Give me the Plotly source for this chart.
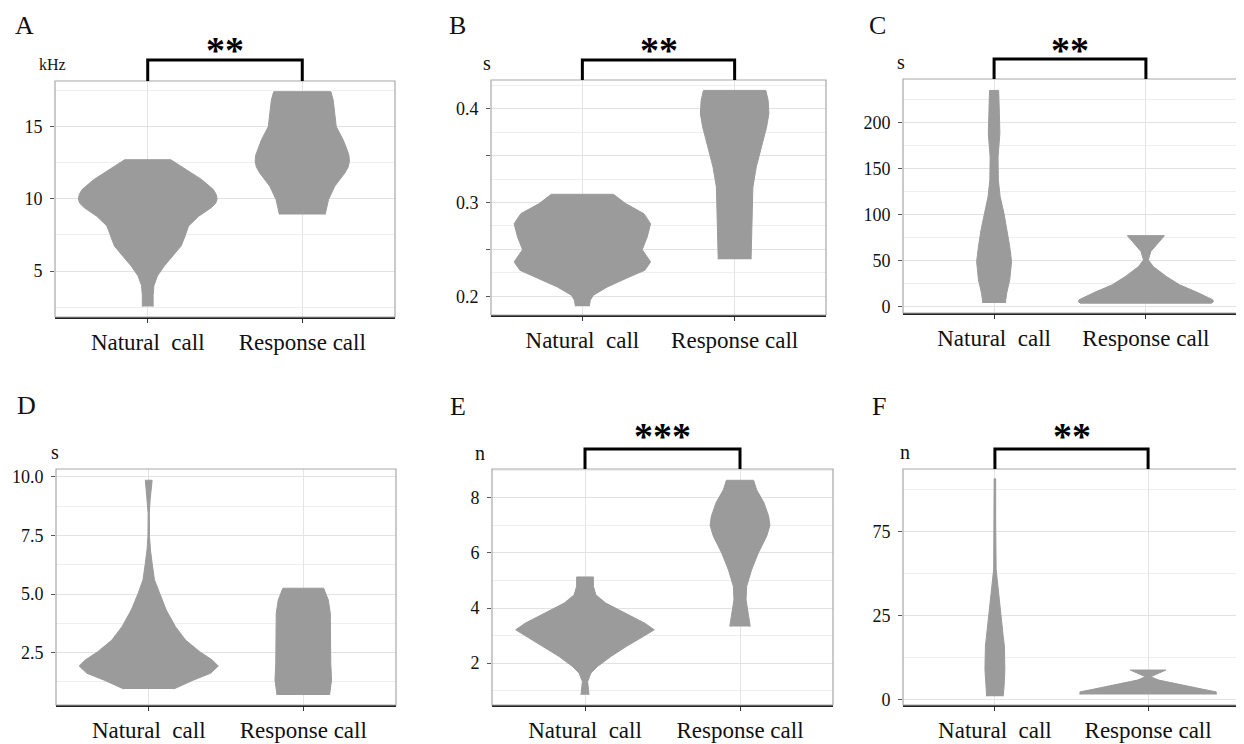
import plotly.graph_objects as go

OFF = 8  # the page body adds an 8px margin around the figure
W, H = 1244 - OFF, 744 - OFF
FONT = "Liberation Serif"
VIOLIN = "#9b9b9b"

categories = ["Natural\u00a0 call", "Response call"]
panel_letters = ["A", "B", "C", "D", "E", "F"]
unit_labels = ["kHz", "s", "s", "s", "n", "n"]
significance = ["**", "**", "**", "", "***", "**"]

# ---- violin outlines: value levels and half-widths ----
A_nat_y = [2.54, 3.3, 3.99, 4.67, 5.36, 6.05, 6.74, 7.43, 8.12, 8.8, 9.38, 9.7, 10.0, 10.3, 10.64, 11.33, 12.02, 12.71]
A_nat_w = [0.035, 0.035, 0.04, 0.063, 0.108, 0.162, 0.216, 0.242, 0.264, 0.33, 0.41, 0.44, 0.449, 0.443, 0.425, 0.35, 0.248, 0.149]
A_res_y = [8.92, 9.95, 10.87, 11.79, 12.2, 12.6, 13.0, 13.4, 14.09, 15.0, 15.92, 16.84, 17.42]
A_res_w = [0.148, 0.17, 0.21, 0.275, 0.297, 0.305, 0.302, 0.29, 0.264, 0.22, 0.21, 0.2, 0.185]

B_nat_y = [0.1893, 0.1957, 0.2011, 0.2099, 0.2188, 0.2277, 0.2366, 0.2497, 0.2632, 0.2774, 0.2881, 0.2988, 0.3087]
B_nat_w = [0.046, 0.052, 0.072, 0.164, 0.284, 0.41, 0.448, 0.393, 0.426, 0.448, 0.404, 0.284, 0.204]
B_res_y = [0.2394, 0.2632, 0.2881, 0.3165, 0.3378, 0.3591, 0.3805, 0.3947, 0.4089, 0.4195]
B_res_w = [0.108, 0.112, 0.114, 0.12, 0.142, 0.175, 0.21, 0.225, 0.22, 0.205]

C_nat_y = [3.6, 14.5, 28.9, 48.8, 65.1, 83.2, 101.3, 119.3, 137.4, 162.7, 188.0, 209.8, 235.0]
C_nat_w = [0.074, 0.083, 0.103, 0.115, 0.103, 0.086, 0.065, 0.04, 0.028, 0.026, 0.038, 0.035, 0.03]
C_res_y = [2.9, 5.0, 7.2, 14.5, 23.5, 32.5, 43.4, 50.6, 59.7, 68.7, 77.0]
C_res_w = [0.425, 0.445, 0.44, 0.348, 0.222, 0.135, 0.048, 0.016, 0.032, 0.076, 0.122]

D_nat_y = [0.95, 1.33, 1.62, 1.93, 2.19, 2.54, 3.04, 3.61, 4.32, 5.04, 5.61, 6.32, 6.89, 7.46, 8.46, 9.03, 9.46, 9.86]
D_nat_w = [0.162, 0.29, 0.40, 0.45, 0.41, 0.33, 0.238, 0.173, 0.113, 0.068, 0.037, 0.022, 0.011, 0.005, 0.004, 0.009, 0.016, 0.022]
D_res_y = [0.69, 1.33, 2.04, 3.18, 4.18, 4.75, 5.25]
D_res_w = [0.17, 0.183, 0.178, 0.176, 0.175, 0.162, 0.132]

E_nat_y = [0.85, 1.03, 1.33, 1.64, 1.88, 2.24, 2.61, 2.97, 3.21, 3.45, 3.82, 4.18, 4.48, 4.79, 5.13]
E_nat_w = [0.026, 0.024, 0.017, 0.038, 0.081, 0.167, 0.268, 0.376, 0.447, 0.386, 0.258, 0.134, 0.07, 0.054, 0.054]
E_res_y = [3.33, 3.82, 4.3, 4.79, 5.39, 6.0, 6.61, 7.0, 7.33, 7.82, 8.3, 8.64]
E_res_w = [0.066, 0.054, 0.039, 0.043, 0.075, 0.118, 0.172, 0.193, 0.185, 0.155, 0.107, 0.088]

F_nat_y = [1.0, 4.0, 9.0, 15.9, 18.9, 23.9, 28.9, 34.9, 38.8, 53.8, 65.7]
F_nat_w = [0.054, 0.06, 0.065, 0.062, 0.054, 0.043, 0.032, 0.017, 0.008, 0.005, 0.005]
F_res_y = [1.5, 2.3, 3.2, 4.5, 5.8, 6.8, 7.8, 8.8]
F_res_w = [0.445, 0.445, 0.345, 0.2, 0.07, 0.017, 0.07, 0.116]

# ---- axis ticks ----
A_ticks, A_text, A_minor = [5, 10, 15], ["5", "10", "15"], [2.5, 7.5, 12.5, 17.5]
B_ticks, B_text, B_minor = [0.2, 0.25, 0.3, 0.35, 0.4], ["0.2", "", "0.3", "", "0.4"], [0.225, 0.275, 0.325, 0.375, 0.425]
C_ticks, C_text, C_minor = [0, 50, 100, 150, 200], ["0", "50", "100", "150", "200"], [25, 75, 125, 175, 225]
D_ticks, D_text, D_minor = [2.5, 5.0, 7.5, 10.0], ["2.5", "5.0", "7.5", "10.0"], [1.25, 3.75, 6.25, 8.75]
E_ticks, E_text, E_minor = [2, 4, 6, 8], ["2", "4", "6", "8"], [1, 3, 5, 7, 9]
F_ticks, F_text, F_minor = [0, 25, 50], ["0", "25", "75"], [12.5, 37.5, 62.5]

panels = [
    dict(nat=(A_nat_y, A_nat_w), res=(A_res_y, A_res_w), ticks=A_ticks, text=A_text, minor=A_minor,
         yr=[1.82, 18.16], box=(55, 81, 395, 317)),
    dict(nat=(B_nat_y, B_nat_w), res=(B_res_y, B_res_w), ticks=B_ticks, text=B_text, minor=B_minor,
         yr=[0.180, 0.4306], box=(491, 80, 826, 315)),
    dict(nat=(C_nat_y, C_nat_w), res=(C_res_y, C_res_w), ticks=C_ticks, text=C_text, minor=C_minor,
         yr=[-7.2, 247.5], box=(903, 79, 1237, 313)),
    dict(nat=(D_nat_y, D_nat_w), res=(D_res_y, D_res_w), ticks=D_ticks, text=D_text, minor=D_minor,
         yr=[0.265, 10.34], box=(56, 469, 396, 705)),
    dict(nat=(E_nat_y, E_nat_w), res=(E_res_y, E_res_w), ticks=E_ticks, text=E_text, minor=E_minor,
         yr=[0.48, 9.05], box=(492, 469, 833, 705)),
    dict(nat=(F_nat_y, F_nat_w), res=(F_res_y, F_res_w), ticks=F_ticks, text=F_text, minor=F_minor,
         yr=[-1.6, 68.6], box=(903, 469, 1240, 705)),
]

# label positions in screen pixels
letter_pos = [(13, 25), (447, 25), (867, 25), (15, 405), (448, 406), (870, 406)]
unit_pos = [(52, 64), (487, 63), (901, 62), (55, 452), (480, 453), (905, 452)]
star_y = [50, 50, 50, None, 436, 436]
bracket_y = [60, 60, 59, None, 449, 449]

fig = go.Figure()
layout = dict(width=W, height=H, margin=dict(l=0, r=0, t=0, b=0, autoexpand=False),
              font=dict(family=FONT, color="#111"),
              paper_bgcolor="white", plot_bgcolor="white", showlegend=False)
shapes, annotations = [], []


def px_x(x):
    return (x - OFF) / W


def px_y(y):
    return 1 - (y - OFF) / H


for i, p in enumerate(panels):
    n = i + 1
    xa = "x" if n == 1 else f"x{n}"
    ya = "y" if n == 1 else f"y{n}"
    x0, y0, x1, y1 = p["box"]
    for center, (ys, ws) in ((1, p["nat"]), (2, p["res"])):
        xs = [center + w for w in ws] + [center - w for w in ws[::-1]]
        yy = list(ys) + list(ys[::-1])
        fig.add_trace(go.Scatter(x=xs, y=yy, xaxis=xa, yaxis=ya, mode="lines", fill="toself",
                                 fillcolor=VIOLIN, line=dict(color=VIOLIN, width=1),
                                 hoverinfo="skip"))
    layout["xaxis" if n == 1 else f"xaxis{n}"] = dict(
        domain=[px_x(x0), px_x(x1)], anchor=ya, range=[0.4, 2.6], automargin=False,
        tickvals=[1, 2], ticktext=categories, ticks="outside", ticklen=4, tickcolor="#333",
        tickfont=dict(family=FONT, size=23, color="#111"), showgrid=True, gridcolor="#e4e4e4",
        gridwidth=1, zeroline=False, showline=True, linecolor="#222", linewidth=1.5,
        ticklabelstandoff=0, fixedrange=True)
    layout["yaxis" if n == 1 else f"yaxis{n}"] = dict(
        domain=[px_y(y1), px_y(y0)], anchor=xa, range=p["yr"], automargin=False,
        tickvals=p["ticks"], ticktext=p["text"], ticks="outside", ticklen=4, tickcolor="#555",
        tickfont=dict(family=FONT, size=18, color="#111"), showgrid=True, gridcolor="#e2e2e2",
        gridwidth=1.4, zeroline=False, showline=False, ticklabelstandoff=4,
        minor=dict(tickvals=p["minor"], showgrid=True, gridcolor="#eeeeee", gridwidth=1, ticks=""),
        fixedrange=True)
    shapes.append(dict(type="rect", xref=f"{xa} domain", yref=f"{ya} domain", x0=0, x1=1, y0=0, y1=1,
                       line=dict(color="#a8a8a8", width=1.2), layer="above"))
    lx, ly = letter_pos[i]
    annotations.append(dict(text=panel_letters[i], x=px_x(lx), y=px_y(ly), xref="paper", yref="paper",
                            xanchor="left", yanchor="middle", showarrow=False,
                            font=dict(family=FONT, size=26, color="#111")))
    ux, uy = unit_pos[i]
    annotations.append(dict(text=unit_labels[i], x=px_x(ux), y=px_y(uy), xref="paper", yref="paper",
                            xanchor="center", yanchor="middle", showarrow=False,
                            font=dict(family=FONT, size=16 if i == 0 else 20, color="#111")))
    if significance[i]:
        by = px_y(bracket_y[i])
        top = px_y(y0)
        shapes.append(dict(type="path", xref=xa, yref="paper",
                           path=f"M 1,{top} L 1,{by} L 2,{by} L 2,{top}",
                           line=dict(color="#000", width=3)))
        annotations.append(dict(text="<b>" + significance[i] + "</b>", x=1.5, y=px_y(star_y[i]),
                                xref=xa, yref="paper",
                                xanchor="center", yanchor="middle", showarrow=False,
                                font=dict(family=FONT, size=38, color="#000")))

layout["shapes"] = shapes
layout["annotations"] = annotations
fig.update_layout(**layout)
fig.write_html("out.html")
